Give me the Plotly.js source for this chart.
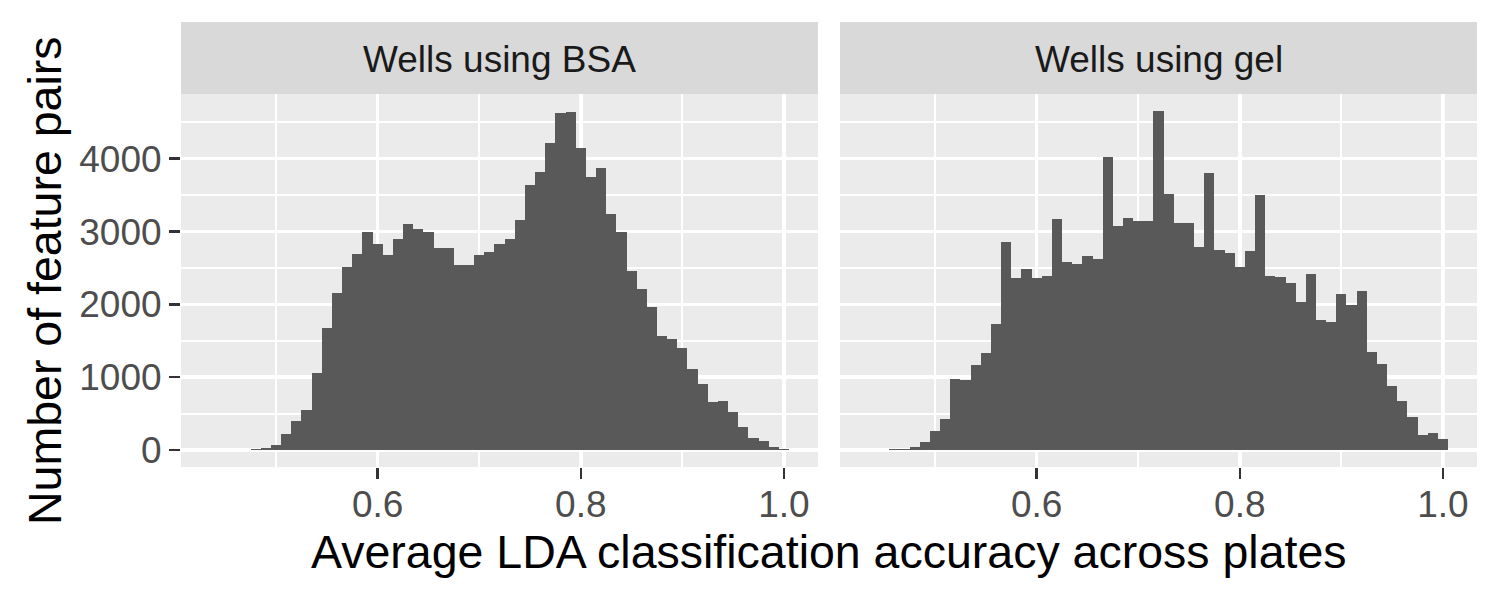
<!DOCTYPE html>
<html>
<head>
<meta charset="utf-8">
<script src="https://cdn.plot.ly/plotly-3.0.1.min.js"></script>
<style>html,body{margin:0;padding:0;background:#fff;}#chart{width:1500px;height:600px;}</style>
</head>
<body>
<div id="chart"></div>
<script>
const panelTitles = ["Wells using BSA", "Wells using gel"];
const xTitle = "Average LDA classification accuracy across plates";
const yTitle = "Number of feature pairs";

const bsaBins = [0.48,0.49,0.50,0.51,0.52,0.53,0.54,0.55,0.56,0.57,0.58,0.59,0.60,0.61,0.62,0.63,0.64,0.65,0.66,0.67,0.68,0.69,0.70,0.71,0.72,0.73,0.74,0.75,0.76,0.77,0.78,0.79,0.80,0.81,0.82,0.83,0.84,0.85,0.86,0.87,0.88,0.89,0.90,0.91,0.92,0.93,0.94,0.95,0.96,0.97,0.98,0.99,1.00];
const bsaCounts = [20,32,73,216,404,555,1064,1670,2156,2509,2688,2991,2826,2674,2894,3101,3032,2991,2775,2775,2537,2537,2674,2716,2826,2894,3156,3638,3817,4216,4628,4642,4147,3748,3872,3239,2991,2454,2206,1959,1560,1518,1408,1119,913,665,679,528,321,170,128,46,9];

const gelBins = [0.45,0.46,0.47,0.48,0.49,0.50,0.51,0.52,0.53,0.54,0.55,0.56,0.57,0.58,0.59,0.60,0.61,0.62,0.63,0.64,0.65,0.66,0.67,0.68,0.69,0.70,0.71,0.72,0.73,0.74,0.75,0.76,0.77,0.78,0.79,0.80,0.81,0.82,0.83,0.84,0.85,0.86,0.87,0.88,0.89,0.90,0.91,0.92,0.93,0.94,0.95,0.96,0.97,0.98,0.99,1.00];
const gelCounts = [4,8,18,46,115,266,431,982,968,1174,1335,1725,2853,2358,2482,2358,2385,3170,2578,2550,2661,2619,4023,3073,3183,3142,3142,4656,3514,3115,3115,2784,3803,2743,2702,2509,2729,3500,2385,2372,2289,2028,2413,1780,1752,2138,1986,2179,1353,1188,885,679,459,211,239,156];

const xTickVals = [0.6, 0.8, 1.0];
const xTickText = ["0.6", "0.8", "1.0"];
const xMinorVals = [0.5, 0.7, 0.9];
const yTickVals = [0, 1000, 2000, 3000, 4000];
const yTickText = ["0", "1000", "2000", "3000", "4000"];
const yMinorVals = [500, 1500, 2500, 3500, 4500];

const binWidth = 0.01;
const barColor = "#595959";
const FONT = "Liberation Sans, Arial, sans-serif";
const TICK_SIZE = 37;
const TITLE_SIZE = 46.5;

const traces = [
  {type: "bar", x: bsaBins, y: bsaCounts, width: binWidth, marker: {color: barColor, line: {width: 0}}, xaxis: "x", yaxis: "y", hoverinfo: "x+y"},
  {type: "bar", x: gelBins, y: gelCounts, width: binWidth, marker: {color: barColor, line: {width: 0}}, xaxis: "x2", yaxis: "y2", hoverinfo: "x+y"}
];

const W = 1500, H = 600;
const px = v => v / W;
const py = v => 1 - v / H;

function xAxis(domain) {
  return {
    domain: domain, range: [0.4064, 1.0335], anchor: domain[0] < 0.5 ? "y" : "y2",
    tickvals: xTickVals, ticktext: xTickText,
    ticks: "outside", ticklen: 11, tickwidth: 2.5, tickcolor: "#333333",
    ticklabelstandoff: -6,
    tickfont: {family: FONT, size: TICK_SIZE, color: "#4D4D4D"},
    showgrid: true, gridcolor: "#FFFFFF", gridwidth: 3.5,
    minor: {tickvals: xMinorVals, showgrid: true, gridcolor: "#FFFFFF", gridwidth: 1.8, ticks: ""},
    zeroline: false, showline: false, automargin: false, fixedrange: true
  };
}
function yAxis(anchor, showLabels) {
  return {
    domain: [py(467), py(94)], range: [-233, 4889], anchor: anchor,
    tickvals: yTickVals, ticktext: yTickText,
    showticklabels: showLabels,
    ticks: showLabels ? "outside" : "", ticklen: 11, tickwidth: 2.5, tickcolor: "#333333",
    tickfont: {family: FONT, size: TICK_SIZE, color: "#4D4D4D"},
    showgrid: true, gridcolor: "#FFFFFF", gridwidth: 3.5,
    minor: {tickvals: yMinorVals, showgrid: true, gridcolor: "#FFFFFF", gridwidth: 1.8, ticks: ""},
    zeroline: false, showline: false, automargin: false, fixedrange: true
  };
}

const layout = {
  width: W, height: H,
  margin: {l: 0, r: 0, t: 0, b: 0},
  paper_bgcolor: "#FFFFFF", plot_bgcolor: "#EBEBEB",
  showlegend: false, bargap: 0,
  font: {family: FONT},
  xaxis: xAxis([px(181), px(818)]),
  xaxis2: xAxis([px(840), px(1477)]),
  yaxis: yAxis("x", true),
  yaxis2: Object.assign(yAxis("x2", false), {matches: "y"}),
  shapes: [
    {type: "rect", xref: "paper", yref: "paper", x0: px(181), x1: px(818), y0: py(94), y1: py(22), fillcolor: "#D9D9D9", line: {width: 0}, layer: "below"},
    {type: "rect", xref: "paper", yref: "paper", x0: px(840), x1: px(1477), y0: py(94), y1: py(22), fillcolor: "#D9D9D9", line: {width: 0}, layer: "below"}
  ],
  annotations: [
    {text: panelTitles[0], xref: "paper", yref: "paper", x: px((181 + 818) / 2), y: py(59), xanchor: "center", yanchor: "middle", showarrow: false, font: {family: FONT, size: TICK_SIZE, color: "#1A1A1A"}},
    {text: panelTitles[1], xref: "paper", yref: "paper", x: px((840 + 1477) / 2), y: py(59), xanchor: "center", yanchor: "middle", showarrow: false, font: {family: FONT, size: TICK_SIZE, color: "#1A1A1A"}},
    {text: xTitle, xref: "paper", yref: "paper", x: px((181 + 1477) / 2), y: py(552), xanchor: "center", yanchor: "middle", showarrow: false, font: {family: FONT, size: TITLE_SIZE, color: "#000000"}},
    {text: yTitle, xref: "paper", yref: "paper", x: px(45), y: py(281), xanchor: "center", yanchor: "middle", textangle: -90, showarrow: false, font: {family: FONT, size: TITLE_SIZE, color: "#000000"}}
  ]
};

Plotly.newPlot("chart", traces, layout, {displayModeBar: false, staticPlot: true});
</script>
</body>
</html>
